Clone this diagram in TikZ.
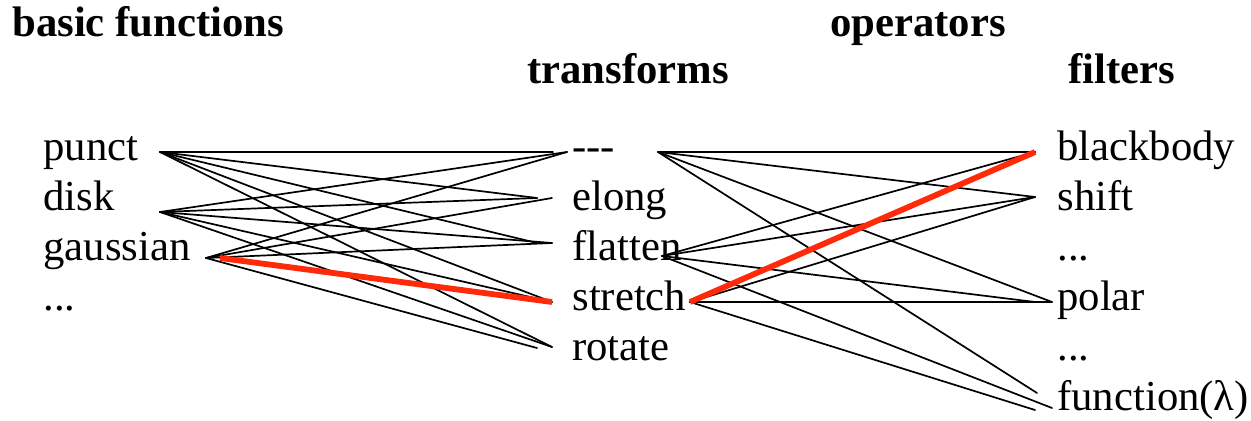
\documentclass[tikz,border=0pt]{standalone}
\usepackage{fontspec}
\setmainfont{Liberation Serif}
\definecolor{pathred}{RGB}{255,42,10}
\tikzset{
  lbl/.style={anchor=base west,inner sep=0pt,font=\fontsize{21.35}{24}\selectfont},
  head/.style={anchor=base west,inner sep=0pt,font=\fontsize{21.35}{24}\selectfont\bfseries},
  link/.style={line width=0.85pt,line cap=round},
  pick/.style={line width=2.9pt,draw=pathred}
}
\begin{document}
\begin{tikzpicture}[x=0.5pt,y=-0.5pt]
\useasboundingbox (0,0) rectangle (1251,421);

% column headings
\node[head] (hbasic) at (12,37) {basic functions};
\node[head] (hops)   at (830,37) {operators};
\node[head] (htrans) at (527,84) {transforms};
\node[head] (hfilt)  at (1068,84) {filters};

% basic functions
\node[lbl] (punct) at (43,161) {punct};
\node[lbl] (disk)  at (43,211) {disk};
\node[lbl] (gauss) at (43,261) {gaussian};
\node[lbl] (bdots) at (43,311) {...};

% transforms
\node[lbl] (dash)  at (572,161) {-{}-{}-};
\node[lbl] (elong) at (572,211) {elong};
\node[lbl] (flat)  at (572,261) {flatten};
\node[lbl] (str)   at (572,311) {stretch};
\node[lbl] (rot)   at (572,361) {rotate};

% filters
\node[lbl] (bb)    at (1057,161) {blackbody};
\node[lbl] (shift) at (1057,211) {shift};
\node[lbl] (fdots1) at (1057,261) {...};
\node[lbl] (polar) at (1057,311) {polar};
\node[lbl] (fdots2) at (1057,361) {...};
\node[lbl] (fn)    at (1057,411) {function(λ)};

% line ends
\coordinate (punct-o) at (160,152);
\coordinate (disk-o)  at (160,212);
\coordinate (gauss-o) at (206,258);
\coordinate (gauss-r) at (220,258);

\coordinate (dash-i1)  at (553,152);
\coordinate (dash-i2)  at (567,152);
\coordinate (elong-i1) at (537,198);
\coordinate (elong-i2) at (552,198);
\coordinate (flat-i1)  at (537,243);
\coordinate (flat-i2)  at (552,243);
\coordinate (str-i)    at (552,302);
\coordinate (rot-i1)   at (537,348);
\coordinate (rot-i2)   at (552,347);

\coordinate (dash-o) at (658,152);
\coordinate (flat-o) at (662,256);
\coordinate (str-o)  at (690,302);

\coordinate (bb-i)     at (1035,152);
\coordinate (shift-i)  at (1035,197);
\coordinate (polar-i1) at (1035,302);
\coordinate (polar-i2) at (1052,302);
\coordinate (fn-i1)    at (1037,393);
\coordinate (fn-i2)    at (1052,408);
\coordinate (fn-i3)    at (1035,410);

% basic functions -> transforms
\draw[link] (punct-o) -- (dash-i1);
\draw[link] (punct-o) -- (elong-i1);
\draw[link] (punct-o) -- (flat-i1);
\draw[link] (punct-o) -- (str-i);
\draw[link] (punct-o) -- (rot-i2);

\draw[link] (disk-o) -- (dash-i2);
\draw[link] (disk-o) -- (elong-i1);
\draw[link] (disk-o) -- (flat-i2);
\draw[link] (disk-o) -- (str-i);
\draw[link] (disk-o) -- (rot-i2);

\draw[link] (gauss-o) -- (dash-i2);
\draw[link] (gauss-o) -- (elong-i2);
\draw[link] (gauss-o) -- (flat-i2);
\draw[link] (gauss-o) -- (rot-i1);

% transforms -> filters
\draw[link] (dash-o) -- (bb-i);
\draw[link] (dash-o) -- (shift-i);
\draw[link] (dash-o) -- (polar-i2);
\draw[link] (dash-o) -- (fn-i1);

\draw[link] (flat-o) -- (bb-i);
\draw[link] (flat-o) -- (shift-i);
\draw[link] (flat-o) -- (polar-i1);
\draw[link] (flat-o) -- (fn-i2);

\draw[link] (str-o) -- (shift-i);
\draw[link] (str-o) -- (polar-i2);
\draw[link] (str-o) -- (fn-i3);

% highlighted chain
\draw[pick] (gauss-r) -- (str-i);
\draw[pick] (str-o) -- (bb-i);
\end{tikzpicture}
\end{document}
